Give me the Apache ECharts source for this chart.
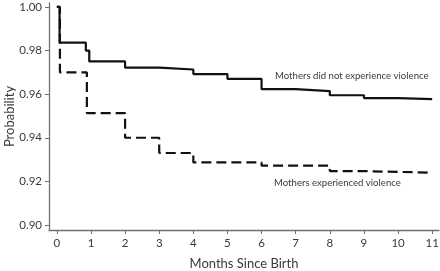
<!DOCTYPE html>
<html><head><meta charset="utf-8">
<script src="https://cdn.jsdelivr.net/npm/echarts@6/dist/echarts.min.js"></script>
<style>html,body{margin:0;padding:0;background:#fff}#c{width:440px;height:271px}</style>
</head><body><div id="c"></div>
<script>
const xTicks = [0,1,2,3,4,5,6,7,8,9,10,11];
const yTicks = [0.90,0.92,0.94,0.96,0.98,1.00];
const noViolenceMonths = [0, 0.08, 0.85, 0.95, 2, 3, 4, 5, 6, 7, 8, 9, 10, 11];
const noViolenceProb   = [1.000, 0.9836, 0.9800, 0.9750, 0.9722, 0.9713, 0.9692, 0.9670, 0.9623, 0.9614, 0.9595, 0.9582, 0.9577, 0.9575];
const violenceMonths = [0, 0.09, 0.88, 2, 3, 4, 6, 8, 9, 11];
const violenceProb   = [1.000, 0.9700, 0.9513, 0.9400, 0.9330, 0.9287, 0.9272, 0.9247, 0.9240, 0.9240];
const labelNoViolence = 'Mothers did not experience violence';
const labelViolence = 'Mothers experienced violence';

const FONT = 'Lato';
const chart = echarts.init(document.getElementById('c'), null, {renderer:'canvas'});
const axisColor = '#707070';
const textColor = '#3a3a3a';
chart.setOption({
  animation:false,
  grid:{left:49, right:1, top:3, bottom:41, containLabel:false, outerBoundsMode:'none'},
  xAxis:{
    type:'value', min:-0.23, max:11.2,
    axisLine:{show:true, onZero:false, lineStyle:{color:axisColor, width:1.3}},
    axisTick:{show:true, customValues:xTicks, length:4, lineStyle:{color:axisColor}},
    axisLabel:{customValues:xTicks, color:textColor, fontFamily:FONT, fontSize:11.5, margin:7},
    splitLine:{show:false},
    name:'Months Since Birth', nameLocation:'middle', nameGap:27, nameMoveOverlap:false,
    nameTextStyle:{color:textColor, fontFamily:FONT, fontSize:13}
  },
  yAxis:{
    type:'value', min:0.8977, max:1.0018,
    axisLine:{show:true, onZero:false, lineStyle:{color:axisColor, width:1.3}},
    axisTick:{show:true, customValues:yTicks, length:4, lineStyle:{color:axisColor}},
    axisLabel:{customValues:yTicks, color:textColor, fontFamily:FONT, fontSize:11.5, margin:7,
      formatter:v=>v.toFixed(2)},
    splitLine:{show:false},
    name:'Probability', nameLocation:'middle', nameGap:33, nameMoveOverlap:false,
    nameTextStyle:{color:textColor, fontFamily:FONT, fontSize:13}
  },
  series:[
    {type:'line', step:'end', symbol:'none',
     data:noViolenceMonths.map((m,i)=>[m,noViolenceProb[i]]),
     lineStyle:{color:'#111', width:2.2}},
    {type:'line', step:'end', symbol:'none',
     data:violenceMonths.map((m,i)=>[m,violenceProb[i]]),
     lineStyle:{color:'#111', width:2.2, type:[10,5]}}
  ],
  graphic:[
    {type:'text', left:275, top:71, style:{text:labelNoViolence, fill:textColor, font:'9.6px Lato'}},
    {type:'text', left:274, top:178, style:{text:labelViolence, fill:textColor, font:'9.6px Lato'}}
  ]
});
</script></body></html>
